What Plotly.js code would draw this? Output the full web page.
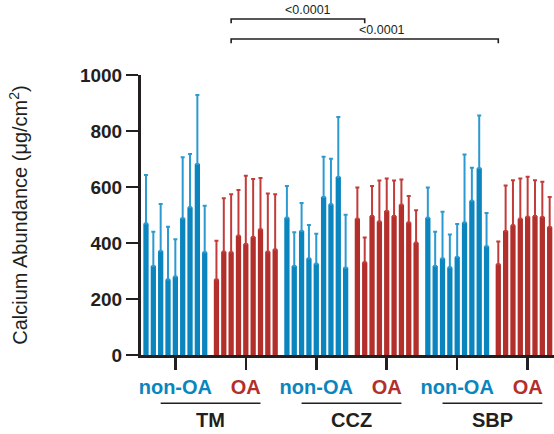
<!DOCTYPE html>
<html>
<head>
<meta charset="utf-8">
<script src="https://cdn.plot.ly/plotly-3.0.1.min.js"></script>
<style>html,body{margin:0;padding:0;background:#fff;}#chart{width:554px;height:434px;}</style>
</head>
<body>
<div id="chart"></div>
<script>
// Sites and conditions
const sites = ['TM', 'CCZ', 'SBP'];
const conditions = ['non-OA', 'OA'];

// Mean calcium abundance (µg/cm²) per sample
const tmNonOA  = [470, 318, 371, 270, 280, 488, 528, 682, 367];
const tmOA     = [270, 369, 367, 426, 396, 421, 449, 369, 377];
const cczNonOA = [490, 318, 443, 345, 326, 564, 538, 636, 312];
const cczOA    = [487, 331, 496, 477, 514, 496, 537, 473, 401];
const sbpNonOA = [490, 318, 345, 313, 350, 473, 551, 667, 388];
const sbpOA    = [324, 443, 463, 487, 494, 496, 493, 457];

// Upper error (SD) per sample
const tmNonOAErr  = [173, 122, 168, 188, 133, 218, 190, 247, 166];
const tmOAErr     = [138, 191, 207, 163, 244, 208, 183, 208, 197];
const cczNonOAErr = [114, 120, 100, 119, 107, 144, 163, 214, 189];
const cczOAErr    = [111, 89, 108, 146, 116, 127, 90, 95, 116];
const sbpNonOAErr = [108, 122, 167, 117, 118, 243, 118, 188, 119];
const sbpOAErr    = [81, 162, 161, 143, 143, 128, 126, 107];

// Significance annotations
const pLabels = ['<0.0001', '<0.0001'];

const BLUE = '#0a85be', BLUE_ERR = '#2c9ad0';
const RED = '#b22f2c', RED_ERR = '#c23d3a';
const INK = '#231f20';
const FONT = 'Arial, "Liberation Sans", sans-serif';

const groups = [
  {vals: tmNonOA,  err: tmNonOAErr,  c: BLUE, ec: BLUE_ERR},
  {vals: tmOA,     err: tmOAErr,     c: RED,  ec: RED_ERR},
  {vals: cczNonOA, err: cczNonOAErr, c: BLUE, ec: BLUE_ERR},
  {vals: cczOA,    err: cczOAErr,    c: RED,  ec: RED_ERR},
  {vals: sbpNonOA, err: sbpNonOAErr, c: BLUE, ec: BLUE_ERR},
  {vals: sbpOA,    err: sbpOAErr,    c: RED,  ec: RED_ERR}
];

const STEP = 9.6;   // slot distance between group starts
const pos = (g, k) => g * STEP + k;

const traces = groups.map((gr, g) => ({
  type: 'bar',
  x: gr.vals.map((_, k) => pos(g, k)),
  y: gr.vals,
  width: 0.72,
  marker: {color: gr.c, line: {width: 0}},
  error_y: {
    type: 'data', symmetric: false,
    array: gr.err, arrayminus: gr.err.map(() => 0),
    color: gr.ec, thickness: 2, width: 2
  },
  showlegend: false,
  hoverinfo: 'y'
}));

const tickvals = groups.map((_, g) => pos(g, 4));
const ticktext = groups.map((gr, g) => {
  const cond = conditions[g % 2];
  return '<span style="color:' + gr.c + '">' + cond + '</span>';
});

const shapes = [];
const annotations = [];
sites.forEach((s, i) => {
  const mid = (pos(2 * i, 4) + pos(2 * i + 1, 4)) / 2;
  shapes.push({type: 'line', xref: 'x', yref: 'paper',
    x0: mid - 6.8, x1: mid + 6.8, y0: -0.1725, y1: -0.1725,
    line: {color: INK, width: 1.6}});
  annotations.push({xref: 'x', yref: 'paper', x: mid, y: -0.232,
    text: s, showarrow: false, xanchor: 'center', yanchor: 'middle',
    font: {family: FONT, size: 20, color: INK, weight: 'bold'}});
});

// brackets: TM OA (3rd) -> CCZ OA (2nd); TM OA (3rd) -> SBP OA (1st)
const brackets = [
  {x0: pos(1, 2), x1: pos(3, 1), y: 1.2, tx: 22.1, ty: 1.232},
  {x0: pos(1, 2), x1: pos(5, 0), y: 1.1286, tx: 32.1, ty: 1.16}
];
brackets.forEach((b, i) => {
  const drop = 0.015;
  shapes.push({type: 'path', xref: 'x', yref: 'paper',
    path: 'M' + b.x0 + ',' + (b.y - drop) + ' L' + b.x0 + ',' + b.y +
          ' L' + b.x1 + ',' + b.y + ' L' + b.x1 + ',' + (b.y - drop),
    line: {color: INK, width: 1.6}});
  annotations.push({xref: 'x', yref: 'paper', x: b.tx, y: b.ty,
    text: pLabels[i], showarrow: false, xanchor: 'center', yanchor: 'middle',
    font: {family: FONT, size: 12.5, color: INK}});
});

const layout = {
  width: 554, height: 434,
  margin: {l: 141, r: 0, t: 75, b: 79},
  paper_bgcolor: '#fff', plot_bgcolor: '#fff',
  barmode: 'overlay',
  font: {family: FONT, color: INK},
  xaxis: {
    range: [-0.68, 55.59],
    tickvals: tickvals, ticktext: ticktext,
    ticks: 'outside', ticklen: 12, tickwidth: 2.5, tickcolor: INK,
    showline: true, linewidth: 3, linecolor: INK,
    showgrid: false, zeroline: false,
    tickfont: {family: FONT, size: 20, weight: 'bold'}
  },
  yaxis: {
    range: [0, 1000],
    tickvals: [0, 200, 400, 600, 800, 1000],
    ticks: 'outside', ticklen: 12, tickwidth: 2.5, tickcolor: INK,
    showline: true, linewidth: 3, linecolor: INK,
    showgrid: false, zeroline: false,
    tickfont: {family: FONT, size: 19, color: INK, weight: 'bold'},
    title: {text: 'Calcium Abundance (μg/cm<sup>2</sup>)',
      font: {family: FONT, size: 20, color: INK}, standoff: 47}
  },
  shapes: shapes,
  annotations: annotations
};

Plotly.newPlot('chart', traces, layout, {staticPlot: true, displayModeBar: false});
</script>
</body>
</html>
